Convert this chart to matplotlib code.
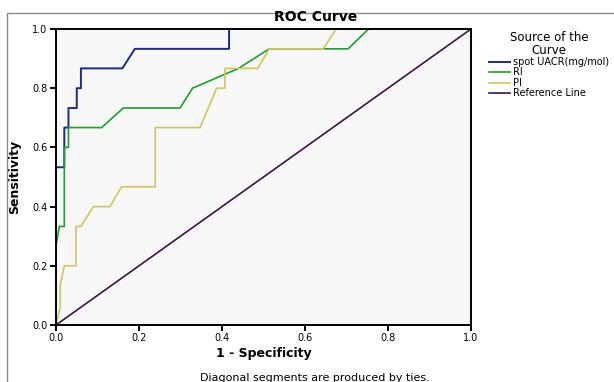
import matplotlib
matplotlib.use("Agg")
import matplotlib.pyplot as plt
from matplotlib.patches import Rectangle

# ---- data ----
uacr_fpr = [0, 0, 0.02, 0.02, 0.03, 0.03, 0.05, 0.05, 0.06, 0.06, 0.16, 0.19, 0.417, 0.417, 1.0]
uacr_tpr = [0, 0.533, 0.533, 0.667, 0.667, 0.733, 0.733, 0.8, 0.8, 0.867, 0.867, 0.933, 0.933, 1.0, 1.0]

ri_fpr = [0, 0, 0.008, 0.02, 0.02, 0.03, 0.03, 0.11, 0.162, 0.299, 0.329, 0.44, 0.514, 0.704, 0.753, 1.0]
ri_tpr = [0, 0.267, 0.333, 0.333, 0.6, 0.6, 0.667, 0.667, 0.733, 0.733, 0.8, 0.867, 0.933, 0.933, 1.0, 1.0]

pi_fpr = [0, 0.01, 0.01, 0.02, 0.048, 0.048, 0.06, 0.09, 0.13, 0.158, 0.239, 0.239, 0.347, 0.387,
          0.407, 0.407, 0.486, 0.514, 0.644, 0.675, 1.0]
pi_tpr = [0, 0.06, 0.133, 0.2, 0.2, 0.333, 0.333, 0.4, 0.4, 0.467, 0.467, 0.667, 0.667, 0.8,
          0.8, 0.867, 0.867, 0.933, 0.933, 1.0, 1.0]

ref_x = [0, 1]
ref_y = [0, 1]

series_labels = ["spot UACR(mg/mol)", "RI", "PI", "Reference Line"]
series_colors = ["#1c2a8a", "#1f9e2a", "#d2c55e", "#3d1441"]
ticks = [0.0, 0.2, 0.4, 0.6, 0.8, 1.0]
tick_labels = ["0.0", "0.2", "0.4", "0.6", "0.8", "1.0"]

W, H = 614, 382
fig = plt.figure(figsize=(W / 100, H / 100), dpi=100)
fig.patch.set_facecolor("white")

# outer frame (clipped on right and bottom)
fig.patches.append(Rectangle((7 / W, -0.1), 1.2, 1 - 13 / H + 0.1, transform=fig.transFigure,
                             fill=False, edgecolor="#8a8a8a", linewidth=1.0))

left, right, top, bottom = 56, 471, 29, 325
ax = fig.add_axes([left / W, 1 - bottom / H, (right - left) / W, (bottom - top) / H])
ax.set_facecolor("#f7f7f7")

lw = 1.2
ax.plot(uacr_fpr, uacr_tpr, color=series_colors[0], lw=lw + 0.2, label=series_labels[0])
ax.plot(ri_fpr, ri_tpr, color=series_colors[1], lw=lw, label=series_labels[1])
ax.plot(pi_fpr, pi_tpr, color=series_colors[2], lw=lw, label=series_labels[2])
ax.plot(ref_x, ref_y, color=series_colors[3], lw=lw, label=series_labels[3])

ax.set_xlim(0, 1)
ax.set_ylim(0, 1)
ax.set_xticks(ticks)
ax.set_xticklabels(tick_labels)
ax.set_yticks(ticks)
ax.set_yticklabels(tick_labels)
for s in ax.spines.values():
    s.set_linewidth(1.4)
    s.set_color("black")
ax.tick_params(direction="out", length=4, width=1.4, labelsize=7, pad=2)

ax.set_xlabel("1 - Specificity", fontsize=9, fontweight="bold", labelpad=3)
ax.set_ylabel("Sensitivity", fontsize=9, fontweight="bold", labelpad=8)

fig.text(316 / W, 1 - 17 / H, "ROC Curve", fontsize=10, fontweight="bold",
         ha="center", va="center")
fig.text(315 / W, 1 - 378 / H, "Diagonal segments are produced by ties.", fontsize=8,
         ha="center", va="center")

leg = ax.legend(loc="upper left", bbox_to_anchor=(489 / W, 1 - 31 / H),
                bbox_transform=fig.transFigure, frameon=False, fontsize=7,
                title="Source of the\nCurve", title_fontsize=8.5,
                handlelength=2.2, handletextpad=0.3, labelspacing=0.05,
                borderaxespad=0, borderpad=0)
leg._legend_box.align = "center"
leg.get_title().set_multialignment("center")
leg.get_title().set_linespacing(0.95)

fig.savefig("out.png", dpi=100)
